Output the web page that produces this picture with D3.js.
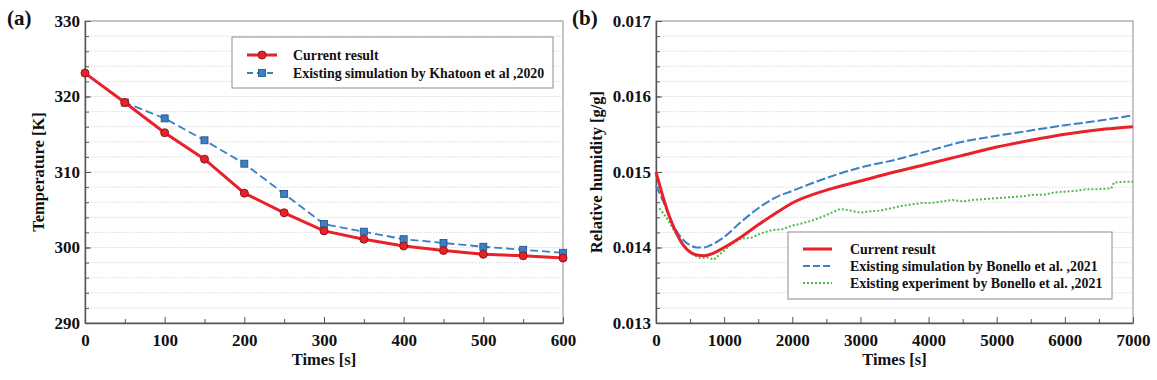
<!DOCTYPE html>
<html>
<head>
<meta charset="UTF-8">
<title>Temperature and humidity</title>
<script src="https://cdn.jsdelivr.net/npm/d3@7"></script>
<style>
  body { margin: 0; background: #fff; }
  svg text { font-family: "Liberation Serif", "Times New Roman", serif; font-weight: bold; fill: #111; }
</style>
</head>
<body>
<svg id="chart" width="1157" height="380"></svg>
<script>
// ---- panel (a) data ----
var timesA = [0, 50, 100, 150, 200, 250, 300, 350, 400, 450, 500, 550, 600];
var currentA = [323.1, 319.2, 315.2, 311.7, 307.2, 304.6, 302.2, 301.1, 300.2, 299.6, 299.1, 298.9, 298.6];
var khatoonA = [323.1, 319.2, 317.1, 314.2, 311.1, 307.1, 303.1, 302.1, 301.1, 300.6, 300.1, 299.7, 299.3];
var yTicksA = [290, 300, 310, 320, 330];

// ---- panel (b) data ----
var timesCur = [0, 100, 200, 300, 400, 500, 600, 700, 800, 1000, 1250, 1500, 1750, 2000, 2500, 3000, 3500, 4000, 4500, 5000, 5500, 6000, 6500, 7000];
var currentB = [0.01500, 0.01468, 0.01440, 0.01419, 0.01403, 0.01394, 0.01390, 0.01389, 0.01391, 0.01400, 0.01414, 0.01430, 0.01445, 0.01459, 0.01476, 0.01488, 0.01500, 0.01511, 0.01522, 0.01533, 0.01542, 0.01550, 0.01556, 0.01560];
var timesSim = [0, 100, 200, 300, 400, 500, 600, 700, 800, 1000, 1250, 1500, 1750, 2000, 2500, 3000, 3500, 4000, 4500, 5000, 5500, 6000, 6500, 7000];
var simB = [0.01482, 0.01462, 0.01440, 0.01422, 0.01410, 0.01403, 0.01400, 0.01400, 0.01403, 0.01414, 0.01434, 0.01452, 0.01466, 0.01475, 0.01492, 0.01506, 0.01516, 0.01528, 0.01540, 0.01548, 0.01555, 0.01562, 0.01568, 0.01575];
var timesExp = [50, 150, 250, 350, 450, 550, 650, 750, 850, 950, 1100, 1250, 1400, 1550, 1700, 1850, 2000, 2150, 2300, 2450, 2600, 2700, 2850, 3000, 3150, 3300, 3450, 3600, 3750, 3900, 4050, 4200, 4350, 4500, 4650, 4800, 4950, 5100, 5250, 5400, 5550, 5700, 5850, 6000, 6150, 6300, 6450, 6600, 6680, 6720, 6850, 7000];
var expB = [0.01452, 0.01440, 0.01425, 0.01410, 0.01398, 0.01390, 0.01386, 0.01387, 0.01384, 0.01392, 0.01404, 0.01412, 0.01413, 0.01419, 0.01423, 0.01424, 0.01429, 0.01432, 0.01436, 0.01441, 0.01447, 0.01451, 0.01449, 0.01446, 0.01448, 0.01449, 0.01452, 0.01455, 0.01457, 0.01459, 0.01459, 0.01461, 0.01463, 0.01461, 0.01463, 0.01464, 0.01465, 0.01466, 0.01467, 0.01468, 0.01470, 0.01470, 0.01473, 0.01474, 0.01475, 0.01477, 0.01477, 0.01478, 0.01478, 0.01486, 0.01487, 0.01487];
var yTicksB = [0.013, 0.014, 0.015, 0.016, 0.017];

var RED = "#e8212b", BLUE = "#3b7fc4", GREEN = "#4cbb4a";

var svg = d3.select("#chart");

function panel(opt) {
  var x = d3.scaleLinear().domain(opt.xDomain).range([opt.left, opt.right]);
  var y = d3.scaleLinear().domain(opt.yDomain).range([opt.bottom, opt.top]);
  var g = svg.append("g");

  // grid, major and minor
  g.append("g").selectAll("line").data(opt.yGrid).join("line")
    .attr("x1", opt.left).attr("x2", opt.right)
    .attr("y1", function (d) { return y(d) }).attr("y2", function (d) { return y(d) })
    .attr("stroke", "#cfcfcf").attr("stroke-width", 0.8).attr("stroke-dasharray", "1.5,1.5");

  // frame
  g.append("rect").attr("x", opt.left).attr("y", opt.top)
    .attr("width", opt.right - opt.left).attr("height", opt.bottom - opt.top)
    .attr("fill", "none").attr("stroke", "#a0a0a0").attr("stroke-width", 1.2);

  // axes
  var xa = g.append("g").attr("transform", "translate(0," + opt.bottom + ")")
    .call(d3.axisBottom(x).tickValues(opt.xTicks).tickSizeInner(-6).tickSizeOuter(0).tickPadding(11).tickFormat(opt.xFormat));
  g.append("g").attr("transform", "translate(0," + opt.bottom + ")")
    .call(d3.axisBottom(x).tickValues(opt.xMinor).tickSize(-4).tickFormat(""))
    .select(".domain").remove();
  var ya = g.append("g").attr("transform", "translate(" + opt.left + ",0)")
    .call(d3.axisLeft(y).tickValues(opt.yTicks).tickSizeInner(-6).tickSizeOuter(0).tickPadding(5).tickFormat(opt.yFormat));
  g.append("g").attr("transform", "translate(" + opt.left + ",0)")
    .call(d3.axisLeft(y).tickValues(opt.yGrid).tickSize(-4).tickFormat(""))
    .select(".domain").remove();
  g.selectAll(".domain").attr("stroke", "#555").attr("stroke-width", 1.4);
  g.selectAll(".tick line").attr("stroke", "#555");
  xa.selectAll("text").style("font-size", "17px").attr("fill", "#111");
  ya.selectAll("text").style("font-size", "17px").attr("fill", "#111");

  // titles
  g.append("text").attr("x", (opt.left + opt.right) / 2).attr("y", opt.bottom + 42)
    .attr("text-anchor", "middle").style("font-size", "16.5px").text(opt.xTitle);
  g.append("text").attr("transform", "translate(" + opt.yTitleX + "," + ((opt.top + opt.bottom) / 2) + ") rotate(-90)")
    .attr("text-anchor", "middle").style("font-size", "16.5px").text(opt.yTitle);
  g.append("text").attr("x", opt.labelX).attr("y", 25).style("font-size", "21px").text(opt.label);

  return { x: x, y: y, g: g };
}

// ---------- panel (a) ----------
var pa = panel({
  left: 85, right: 563, top: 21, bottom: 323,
  xDomain: [0, 600], yDomain: [290, 330],
  xTicks: d3.range(0, 601, 100), xMinor: d3.range(50, 600, 100),
  yTicks: yTicksA, yGrid: d3.range(292, 330, 2),
  xFormat: d3.format("d"), yFormat: d3.format("d"),
  xTitle: "Times [s]", yTitle: "Temperature [K]", yTitleX: 44,
  label: "(a)", labelX: 7
});

var lineA = d3.line().x(function (d) { return pa.x(d[0]) }).y(function (d) { return pa.y(d[1]) });
var khData = timesA.map(function (t, i) { return [t, khatoonA[i]] });
var curData = timesA.map(function (t, i) { return [t, currentA[i]] });

pa.g.append("path").datum(khData).attr("d", lineA).attr("fill", "none")
  .attr("stroke", BLUE).attr("stroke-width", 1.8).attr("stroke-dasharray", "8,4");
pa.g.append("g").selectAll("rect").data(khData.slice(1)).join("rect")
  .attr("x", function (d) { return pa.x(d[0]) - 3.5 }).attr("y", function (d) { return pa.y(d[1]) - 3.5 })
  .attr("width", 7).attr("height", 7).attr("fill", BLUE).attr("stroke", "#1f4f80").attr("stroke-width", 0.8);

pa.g.append("path").datum(curData).attr("d", lineA).attr("fill", "none")
  .attr("stroke", RED).attr("stroke-width", 3);
pa.g.append("g").selectAll("circle").data(curData).join("circle")
  .attr("cx", function (d) { return pa.x(d[0]) }).attr("cy", function (d) { return pa.y(d[1]) })
  .attr("r", 4).attr("fill", RED).attr("stroke", "#8a1a1a").attr("stroke-width", 1);

// legend (a)
var la = pa.g.append("g").attr("transform", "translate(232,37)");
la.append("rect").attr("width", 321).attr("height", 51).attr("fill", "#fff")
  .attr("stroke", "#8c8c8c").attr("stroke-width", 1);
la.append("line").attr("x1", 15).attr("x2", 45).attr("y1", 18).attr("y2", 18).attr("stroke", RED).attr("stroke-width", 3);
la.append("circle").attr("cx", 30).attr("cy", 18).attr("r", 4).attr("fill", RED).attr("stroke", "#8a1a1a");
la.append("line").attr("x1", 15).attr("x2", 45).attr("y1", 36).attr("y2", 36).attr("stroke", BLUE).attr("stroke-width", 1.8).attr("stroke-dasharray", "6,4");
la.append("rect").attr("x", 26.5).attr("y", 32.5).attr("width", 7).attr("height", 7).attr("fill", BLUE).attr("stroke", "#1f4f80").attr("stroke-width", 0.8);
la.append("text").attr("x", 61).attr("y", 23).style("font-size", "13.9px").text("Current result");
la.append("text").attr("x", 61).attr("y", 41).style("font-size", "13.9px").text("Existing simulation by Khatoon et al ,2020");

// ---------- panel (b) ----------
var pb = panel({
  left: 656, right: 1133, top: 21, bottom: 323,
  xDomain: [0, 7000], yDomain: [0.013, 0.017],
  xTicks: d3.range(0, 7001, 1000), xMinor: d3.range(500, 7000, 1000),
  yTicks: yTicksB, yGrid: d3.range(1, 20).map(function (i) { return 0.013 + i * 0.0002 }),
  xFormat: d3.format("d"), yFormat: d3.format(".3f"),
  xTitle: "Times [s]", yTitle: "Relative humidity [g/g]", yTitleX: 602,
  label: "(b)", labelX: 572
});

function lineB(xs) {
  return d3.line().curve(d3.curveMonotoneX)
    .x(function (d, i) { return pb.x(xs[i]) }).y(function (d) { return pb.y(d) });
}

pb.g.append("path").datum(expB).attr("d", lineB(timesExp).curve(d3.curveLinear)).attr("fill", "none")
  .attr("stroke", GREEN).attr("stroke-width", 2).attr("stroke-dasharray", "2,2");
pb.g.append("path").datum(simB).attr("d", lineB(timesSim)).attr("fill", "none")
  .attr("stroke", BLUE).attr("stroke-width", 2).attr("stroke-dasharray", "9,3");
pb.g.append("path").datum(currentB).attr("d", lineB(timesCur)).attr("fill", "none")
  .attr("stroke", RED).attr("stroke-width", 3);

// legend (b)
var lb = pb.g.append("g").attr("transform", "translate(788,232)");
lb.append("rect").attr("width", 324).attr("height", 67).attr("fill", "#fff")
  .attr("stroke", "#8c8c8c").attr("stroke-width", 1);
lb.append("line").attr("x1", 15).attr("x2", 44).attr("y1", 17).attr("y2", 17).attr("stroke", RED).attr("stroke-width", 3);
lb.append("line").attr("x1", 15).attr("x2", 44).attr("y1", 34).attr("y2", 34).attr("stroke", BLUE).attr("stroke-width", 2).attr("stroke-dasharray", "7,3");
lb.append("line").attr("x1", 15).attr("x2", 44).attr("y1", 51).attr("y2", 51).attr("stroke", GREEN).attr("stroke-width", 2).attr("stroke-dasharray", "2,2");
lb.append("text").attr("x", 62).attr("y", 22).style("font-size", "13.9px").text("Current result");
lb.append("text").attr("x", 62).attr("y", 39).style("font-size", "13.9px").text("Existing simulation by Bonello et al. ,2021");
lb.append("text").attr("x", 62).attr("y", 56).style("font-size", "13.9px").text("Existing experiment by Bonello et al. ,2021");
</script>
</body>
</html>
